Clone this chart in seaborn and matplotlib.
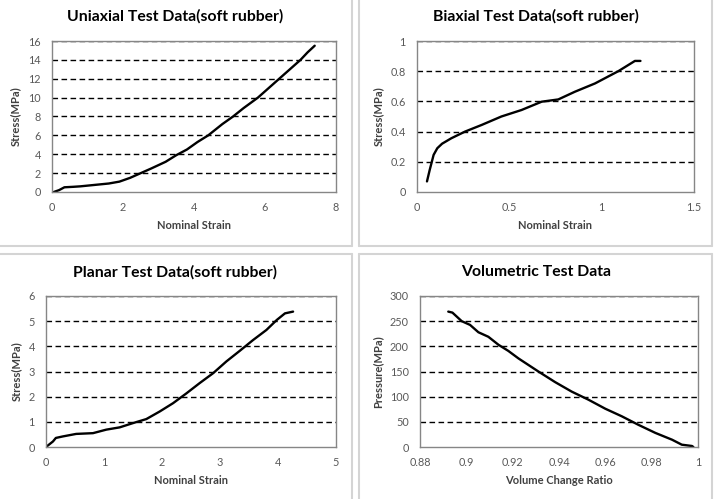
import numpy as np
import pandas as pd
import matplotlib
matplotlib.use("Agg")
import matplotlib.pyplot as plt
import seaborn as sns
from matplotlib.lines import Line2D

# uniaxial test (soft rubber)
uni_strain = [0.05, 0.2, 0.35, 0.6, 0.8, 1.2, 1.6, 1.9, 2.2, 2.5, 2.8, 3.2, 3.5, 3.8,
              4.1, 4.4, 4.8, 5.1, 5.4, 5.8, 6.1, 6.4, 6.7, 7.0, 7.2, 7.4]
uni_stress = [0.0, 0.2, 0.5, 0.55, 0.6, 0.75, 0.9, 1.1, 1.5, 2.0, 2.5, 3.2, 3.9, 4.5,
              5.3, 6.0, 7.2, 8.0, 8.9, 10.0, 11.0, 12.0, 13.0, 14.0, 14.8, 15.5]

# biaxial test (soft rubber)
bi_strain = [0.054, 0.069, 0.09, 0.11, 0.136, 0.186, 0.26, 0.35, 0.457, 0.566,
             0.675, 0.765, 0.855, 0.964, 1.09, 1.18, 1.21]
bi_stress = [0.07, 0.147, 0.246, 0.29, 0.32, 0.356, 0.40, 0.444, 0.50, 0.543,
             0.598, 0.613, 0.664, 0.719, 0.80, 0.868, 0.868]

# planar test (soft rubber)
pl_strain = [0.0, 0.12, 0.17, 0.29, 0.52, 0.81, 1.04, 1.27, 1.5, 1.73, 1.96, 2.19,
             2.42, 2.65, 2.88, 3.11, 3.34, 3.57, 3.8, 3.98, 4.12, 4.26]
pl_stress = [0.0, 0.22, 0.36, 0.42, 0.52, 0.55, 0.69, 0.78, 0.95, 1.11, 1.41, 1.74,
             2.13, 2.54, 2.93, 3.4, 3.82, 4.25, 4.65, 5.05, 5.31, 5.38]

# volumetric test
vol_ratio = [0.8922, 0.894, 0.898, 0.9016, 0.9052, 0.9095, 0.9139, 0.9181, 0.9225,
             0.9268, 0.9311, 0.9383, 0.9455, 0.9527, 0.96, 0.9671, 0.9743, 0.9816,
             0.9888, 0.993, 0.9974, 0.998]
vol_pressure = [269, 267, 250, 242.6, 228, 219, 203, 191, 176, 163, 150, 129, 110,
                94, 76, 61, 44, 28, 14.5, 4.6, 2, 0]

titles = ["Uniaxial Test Data(soft rubber)", "Biaxial Test Data(soft rubber)",
          "Planar Test Data(soft rubber)", "Volumetric Test Data"]
xlabels = ["Nominal Strain", "Nominal Strain", "Nominal Strain", "Volume Change Ratio"]
ylabels = ["Stress(MPa)", "Stress(MPa)", "Stress(MPa)", "Pressure(MPa)"]

sns.set_style("white")
plt.rcParams["font.family"] = ["Lato", "DejaVu Sans"]

W, H = 715, 499
fig = plt.figure(figsize=(W / 100, H / 100), dpi=100)


def px_axes(l, t, r, b):
    return fig.add_axes([l / W, 1 - b / H, (r - l) / W, (b - t) / H])


panels = [
    (uni_strain, uni_stress, (52, 41, 336, 192), (0, 8), np.arange(0, 9, 2), (0, 16), np.arange(0, 17, 2)),
    (bi_strain, bi_stress, (417, 41, 694, 192), (0, 1.5), [0, 0.5, 1, 1.5], (0, 1), np.arange(0, 1.01, 0.2)),
    (pl_strain, pl_stress, (46, 296, 336, 447), (0, 5), np.arange(0, 6), (0, 6), np.arange(0, 7)),
    (vol_ratio, vol_pressure, (420, 296, 698, 447), (0.88, 1.0), np.arange(0.88, 1.001, 0.02), (0, 300), np.arange(0, 301, 50)),
]
title_pos = [(175, 16), (536, 16), (175, 272), (536, 272)]

for i, (xs, ys, box, xlim, xt, ylim, yt) in enumerate(panels):
    ax = px_axes(*box)
    df = pd.DataFrame({"x": xs, "y": ys})
    sns.lineplot(data=df, x="x", y="y", ax=ax, color="black", linewidth=1.7, sort=False)
    ax.set_xlim(*xlim)
    ax.set_ylim(*ylim)
    ax.set_xticks(xt)
    ax.set_yticks(yt)
    ax.set_xticklabels([f"{v:g}" for v in np.round(xt, 3)])
    ax.set_yticklabels([f"{v:g}" for v in np.round(yt, 3)])
    for v in yt[1:]:
        ax.axhline(v, color="black", linestyle=(0, (4, 2.5)), linewidth=1.0, zorder=1)
    for s in ax.spines.values():
        s.set_color("#868686")
        s.set_linewidth(1.0)
    ax.tick_params(axis="both", length=0, labelsize=7.8, labelcolor="#595959")
    ax.tick_params(axis="y", pad=8)
    ax.tick_params(axis="x", pad=7)
    ax.set_xlabel(xlabels[i], fontsize=8, fontweight="bold", color="#404040", labelpad=5)
    ax.set_ylabel(ylabels[i], fontsize=8, fontweight="bold", color="#404040", labelpad=5)
    tx, ty = title_pos[i]
    fig.text(tx / W, 1 - ty / H, titles[i], ha="center", va="center",
             fontsize=11.3, fontweight="bold", color="black")

# chart-area borders like the spreadsheet panels
border = "#d4d4d4"
segs = [
    ((352, 0), (352, 246)), ((359, 0), (359, 246)), ((712, 0), (712, 246)),
    ((352, 254), (352, 499)), ((359, 254), (359, 499)), ((712, 254), (712, 499)),
    ((0, 246), (352, 246)), ((359, 246), (712, 246)),
    ((0, 254), (352, 254)), ((359, 254), (712, 254)),
]
for (x0, y0), (x1, y1) in segs:
    fig.add_artist(Line2D([x0 / W, x1 / W], [1 - y0 / H, 1 - y1 / H],
                          transform=fig.transFigure, color=border, linewidth=1.5))

fig.savefig("out.png", dpi=100)
